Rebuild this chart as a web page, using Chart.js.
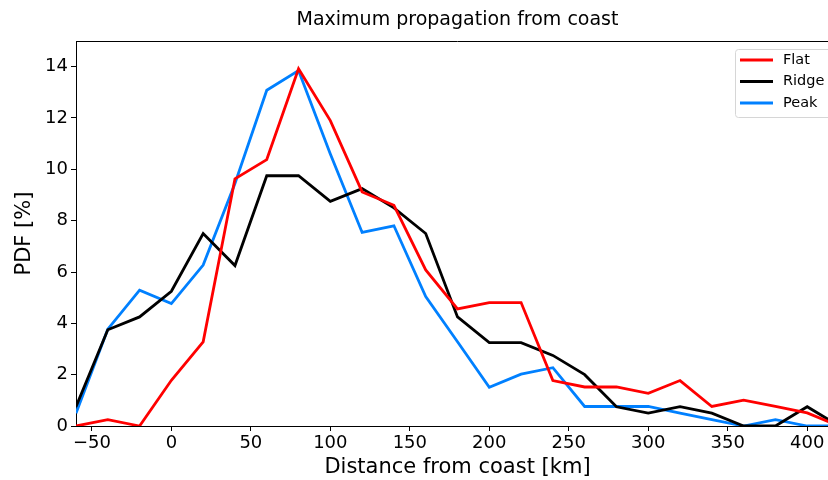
<!DOCTYPE html>
<html>
<head>
<meta charset="utf-8">
<title>Maximum propagation from coast</title>
<script src="https://cdn.jsdelivr.net/npm/chart.js@4.4.0/dist/chart.umd.min.js"></script>
<style>
    html, body { margin: 0; padding: 0; background: #fff; overflow: hidden; width: 828px; height: 480px; }
    #wrap { width: 840px; height: 480px; }
</style>
</head>
<body>
<div id="wrap"><canvas id="myChart" width="840" height="480"></canvas></div>
<script>
// distance bins [km] and PDF values [%]
const distance = [-60, -40, -20, 0, 20, 40, 60, 80, 100, 120, 140, 160, 180, 200, 220, 240, 260, 280, 300, 320, 340, 360, 380, 400, 420];
const flat  = [0, 0.25, 0, 1.78, 3.28, 9.63, 10.38, 13.92, 11.9, 9.12, 8.6, 6.08, 4.56, 4.81, 4.81, 1.77, 1.52, 1.52, 1.27, 1.77, 0.76, 1.01, 0.76, 0.51, 0];
const ridge = [0.75, 3.75, 4.25, 5.25, 7.5, 6.25, 9.75, 9.75, 8.75, 9.25, 8.5, 7.5, 4.25, 3.25, 3.25, 2.75, 2.0, 0.75, 0.5, 0.75, 0.5, 0, 0, 0.75, 0];
const peak  = [0.5, 3.77, 5.29, 4.77, 6.27, 9.45, 13.08, 13.85, 10.6, 7.54, 7.8, 5.04, 3.28, 1.51, 2.02, 2.27, 0.76, 0.76, 0.76, 0.5, 0.25, 0, 0.25, 0, 0];

const seriesNames = ['Flat', 'Ridge', 'Peak'];
const seriesColors = ['#ff0000', '#000000', '#0080ff'];

const xTicks = [-50, 0, 50, 100, 150, 200, 250, 300, 350, 400];
const yTicks = [0, 2, 4, 6, 8, 10, 12, 14];

const FONT = 'DejaVu Sans';

const toPoints = (ys) => distance.map((x, i) => ({ x: x, y: ys[i] }));

// title, top/right spines and the boxed legend
const frame = {
    id: 'frame',
    afterDraw(chart) {
        const { ctx, chartArea } = chart;
        ctx.save();
        ctx.strokeStyle = '#000';
        ctx.lineWidth = 1;
        ctx.beginPath();
        ctx.moveTo(chartArea.left, chartArea.top + 0.5);
        ctx.lineTo(chartArea.right, chartArea.top + 0.5);
        ctx.lineTo(chartArea.right, chartArea.bottom);
        ctx.stroke();

        ctx.fillStyle = '#000';
        ctx.font = '19px "' + FONT + '"';
        ctx.textAlign = 'center';
        ctx.textBaseline = 'middle';
        ctx.fillText('Maximum propagation from coast', (chartArea.left + chartArea.right) / 2, 20);

        // legend
        const lx = chartArea.right - 104, ly = chartArea.top + 8;
        ctx.fillStyle = 'rgba(255,255,255,0.8)';
        ctx.strokeStyle = '#d6d6d6';
        ctx.beginPath();
        ctx.roundRect(lx + 0.5, ly + 0.5, 100, 68, 3);
        ctx.fill();
        ctx.stroke();
        ctx.font = '14.5px "' + FONT + '"';
        ctx.textAlign = 'left';
        seriesNames.forEach((name, i) => {
            const y = ly + 11 + i * 21.5;
            ctx.strokeStyle = seriesColors[i];
            ctx.lineWidth = 3;
            ctx.beginPath();
            ctx.moveTo(lx + 5, y);
            ctx.lineTo(lx + 38, y);
            ctx.stroke();
            ctx.fillStyle = '#000';
            ctx.fillText(name, lx + 48, y);
        });
        ctx.restore();
    }
};

const ctx = document.getElementById('myChart');

const config = {
    type: 'line',
    data: {
        datasets: seriesNames.map((name, i) => ({
            label: name,
            data: toPoints([flat, ridge, peak][i]),
            borderColor: seriesColors[i],
            borderWidth: 2.8,
            pointRadius: 0,
            tension: 0,
            fill: false
        }))
    },
    options: {
        responsive: false,
        animation: false,
        layout: { padding: { top: 41, right: 1, left: 0, bottom: 0 } },
        plugins: {
            legend: { display: false },
            tooltip: { enabled: false }
        },
        scales: {
            x: {
                type: 'linear',
                min: -60,
                max: 420,
                afterBuildTicks(scale) { scale.ticks = xTicks.map(v => ({ value: v })); },
                afterFit(scale) { scale.height = 54; },
                grid: { drawOnChartArea: false, drawTicks: true, tickLength: 5, tickColor: '#000' },
                border: { display: true, color: '#000', width: 1 },
                ticks: {
                    color: '#000',
                    padding: 2,
                    maxRotation: 0,
                    font: { family: FONT, size: 18 },
                    callback: (v) => String(v).replace('-', '\u2212')
                },
                title: {
                    display: true,
                    text: 'Distance from coast [km]',
                    color: '#000',
                    font: { family: FONT, size: 21 },
                    padding: { top: 0, bottom: 0 }
                }
            },
            y: {
                min: 0,
                max: 15,
                afterBuildTicks(scale) { scale.ticks = yTicks.map(v => ({ value: v })); },
                afterFit(scale) { scale.width = 76; },
                grid: { drawOnChartArea: false, drawTicks: true, tickLength: 5, tickColor: '#000' },
                border: { display: true, color: '#000', width: 1 },
                ticks: {
                    color: '#000',
                    padding: 3,
                    font: { family: FONT, size: 18 }
                },
                title: {
                    display: true,
                    text: 'PDF [%]',
                    color: '#000',
                    font: { family: FONT, size: 21 },
                    padding: { top: 12, bottom: 0 }
                }
            }
        }
    },
    plugins: [frame]
};

const chart = new Chart(ctx, config);
</script>
</body>
</html>
